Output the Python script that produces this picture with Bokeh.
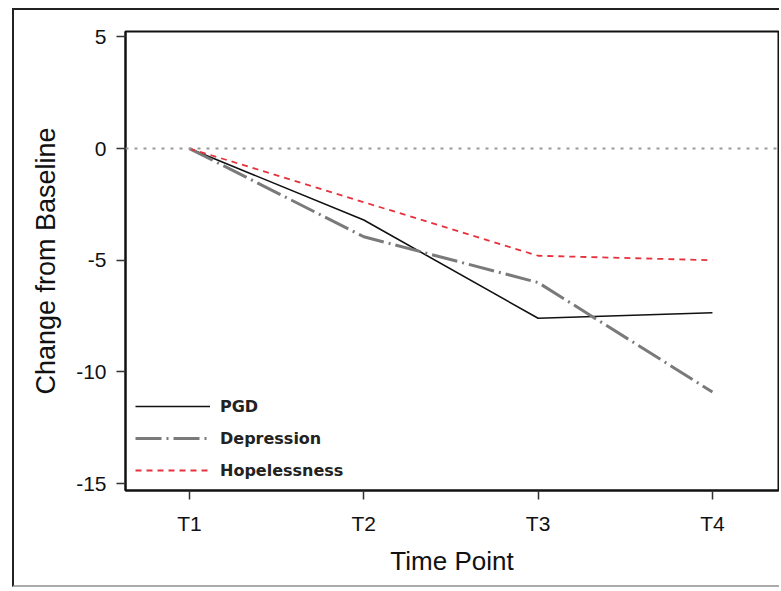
from bokeh.plotting import figure
from bokeh.models import FixedTicker, Legend, LegendItem, Span
from bokeh.embed import file_html
from bokeh.resources import INLINE

time_points = ["T1", "T2", "T3", "T4"]
pgd = [0.0, -3.2, -7.6, -7.35]
depression = [0.0, -3.95, -6.0, -10.9]
hopelessness = [0.0, -2.4, -4.8, -5.0]
y_ticks = [-15, -10, -5, 0, 5]
y_tick_labels = ["-15", "-10", "-5", "0", "5"]

x = [i + 1 for i in range(len(time_points))]

p = figure(width=767, height=579, output_backend="svg", toolbar_location=None,
           x_range=(0.633, 4.379), y_range=(-15.31, 5.24))
p.styles = {"margin-left": "12px", "margin-top": "8px",
            "border-left": "2px solid #222", "border-top": "2px solid #222",
            "border-bottom": "2px solid #aaa"}
p.min_border_left = 111
p.min_border_top = 21
p.min_border_right = 3
p.min_border_bottom = 99
p.background_fill_color = "white"
p.border_fill_color = "white"
p.grid.visible = False
p.outline_line_color = "#111"
p.outline_line_width = 2

font = "Liberation Sans"
for ax in (p.xaxis[0], p.yaxis[0]):
    ax.axis_line_color = "#111"
    ax.axis_line_width = 2
    ax.major_tick_line_color = "#333"
    ax.major_tick_line_width = 1.5
    ax.major_tick_in = 0
    ax.major_tick_out = 9
    ax.minor_tick_line_color = None
    ax.major_label_text_font = font
    ax.major_label_text_font_size = "21px"
    ax.major_label_text_color = "#111"
    ax.axis_label_text_font = font
    ax.axis_label_text_font_style = "normal"
    ax.axis_label_text_color = "#111"

p.xaxis.ticker = FixedTicker(ticks=x)
p.xaxis.major_label_overrides = {xi: t for xi, t in zip(x, time_points)}
p.xaxis.major_label_standoff = 12
p.xaxis.axis_label = "Time Point"
p.xaxis.axis_label_text_font_size = "26px"
p.xaxis.axis_label_standoff = 8

p.yaxis.ticker = FixedTicker(ticks=y_ticks)
p.yaxis.major_label_overrides = {v: s for v, s in zip(y_ticks, y_tick_labels)}
p.yaxis.major_label_standoff = 10
p.yaxis.axis_label = "Change from Baseline"
p.yaxis.axis_label_text_font_size = "27px"
p.yaxis.axis_label_standoff = 12

p.add_layout(Span(location=0, dimension="width", line_color="#999999",
                  line_width=2, line_dash="3 6"))

r1 = p.line(x, pgd, line_color="#111111", line_width=1.6)
r2 = p.line(x, depression, line_color="#7a7a7a", line_width=3,
            line_dash="26 5 2 5")
r3 = p.line(x, hopelessness, line_color="#e5323c", line_width=1.8,
            line_dash="6 5")

legend = Legend(items=[LegendItem(label="PGD", renderers=[r1]),
                       LegendItem(label="Depression", renderers=[r2]),
                       LegendItem(label="Hopelessness", renderers=[r3])],
                location=(10, 10), orientation="vertical")
legend.background_fill_alpha = 0
legend.border_line_color = None
legend.padding = 0
legend.margin = 0
legend.spacing = 12
legend.glyph_width = 75
legend.glyph_height = 20
legend.label_height = 20
legend.label_standoff = 10
legend.label_text_font = "DejaVu Sans"
legend.label_text_font_size = "16px"
legend.label_text_font_style = "bold"
legend.label_text_color = "#222"
p.add_layout(legend, "center")

open("out.html", "w").write(file_html(p, INLINE))
